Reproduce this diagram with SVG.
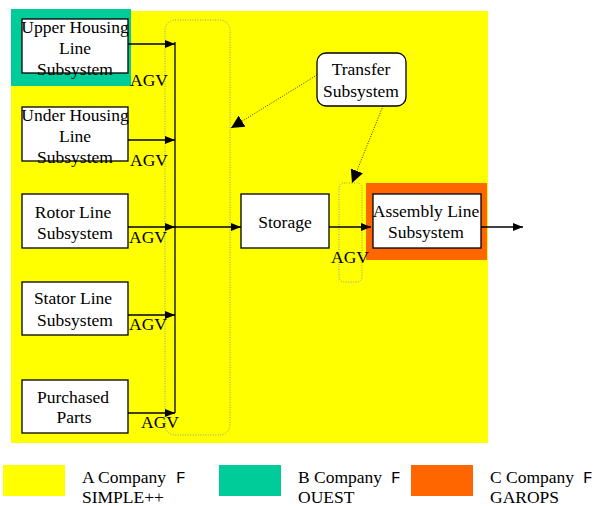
<svg xmlns="http://www.w3.org/2000/svg" width="596" height="506" viewBox="0 0 596 506" font-family="'Liberation Serif', 'Times New Roman', serif">
<style>
text{font-family:'Liberation Serif','Times New Roman',serif;font-size:17.5px;fill:#000}
.c{text-anchor:middle}
text.mono{font-family:'Liberation Mono','Courier New',monospace;font-size:16px}
.box{fill:#fff;stroke:#000;stroke-width:1.3}
.ln{stroke:#000;stroke-width:1.3;fill:none}
.dot{stroke:#8899aa;stroke-width:1;stroke-dasharray:1,1.5;fill:none}
.dar{stroke:#000;stroke-width:0.8;stroke-dasharray:1,1.5;fill:none}
</style>
<defs>
<marker id="ah" viewBox="0 0 10 10" refX="10" refY="5" markerWidth="10" markerHeight="10" markerUnits="userSpaceOnUse" orient="auto">
<path d="M0,1 L10,5 L0,9 Z" fill="#000"/>
</marker>
<marker id="ah2" viewBox="0 0 10 10" refX="10" refY="5" markerWidth="13" markerHeight="13" markerUnits="userSpaceOnUse" orient="auto">
<path d="M0,0 L10,5 L0,10 Z" fill="#000"/>
</marker>
</defs>
<g id="background">
<rect x="11" y="11" width="477" height="432" fill="#ffff00"/>
<rect x="11" y="9" width="120" height="77" fill="#00cc99"/>
<rect x="366" y="183" width="121" height="77" fill="#ff6600"/>
<rect x="165" y="20" width="65" height="415" rx="10" class="dot"/>
<rect x="339" y="183" width="23" height="99" rx="5" class="dot"/>
</g>
<g id="connectors">
<line x1="175" y1="42" x2="175" y2="413" class="ln"/>
<line x1="128" y1="44" x2="175" y2="44" class="ln" marker-end="url(#ah)"/>
<line x1="128" y1="140" x2="175" y2="140" class="ln" marker-end="url(#ah)"/>
<line x1="128" y1="227" x2="175" y2="227" class="ln" marker-end="url(#ah)"/>
<line x1="128" y1="315" x2="175" y2="315" class="ln" marker-end="url(#ah)"/>
<line x1="128" y1="413" x2="175" y2="413" class="ln" marker-end="url(#ah)"/>
<line x1="175" y1="227" x2="241" y2="227" class="ln" marker-end="url(#ah)"/>
<line x1="329" y1="227" x2="371" y2="227" class="ln" marker-end="url(#ah)"/>
<line x1="481" y1="227" x2="523" y2="227" class="ln" marker-end="url(#ah)"/>
<line x1="317" y1="75" x2="231" y2="128" class="dar" marker-end="url(#ah2)"/>
<line x1="383" y1="106" x2="352" y2="183" class="dar" marker-end="url(#ah2)"/>
<text x="130" y="86">AGV</text>
<text x="130" y="166">AGV</text>
<text x="129" y="243">AGV</text>
<text x="129" y="330">AGV</text>
<text x="141" y="428">AGV</text>
<text x="331" y="263">AGV</text>
</g>
<g id="upper-housing">
<rect x="22" y="19" width="106" height="54" class="box"/>
<text x="75" y="33" class="c">Upper Housing</text>
<text x="75" y="54" class="c">Line</text>
<text x="75" y="75" class="c">Subsystem</text>
</g>
<g id="under-housing">
<rect x="22" y="107" width="106" height="54" class="box"/>
<text x="75" y="121" class="c">Under Housing</text>
<text x="75" y="142" class="c">Line</text>
<text x="75" y="163" class="c">Subsystem</text>
</g>
<g id="rotor">
<rect x="22" y="194" width="106" height="54" class="box"/>
<text x="73" y="218" class="c">Rotor Line</text>
<text x="75" y="239" class="c">Subsystem</text>
</g>
<g id="stator">
<rect x="22" y="282" width="106" height="53" class="box"/>
<text x="73" y="304" class="c">Stator Line</text>
<text x="75" y="326" class="c">Subsystem</text>
</g>
<g id="purchased">
<rect x="22" y="380" width="106" height="53" class="box"/>
<text x="73" y="403" class="c">Purchased</text>
<text x="74" y="423" class="c">Parts</text>
</g>
<g id="storage">
<rect x="241" y="194" width="88" height="54" class="box"/>
<text x="285" y="228" class="c">Storage</text>
</g>
<g id="assembly">
<rect x="373" y="194" width="108" height="54" class="box"/>
<text x="426" y="217" class="c">Assembly Line</text>
<text x="426" y="238" class="c">Subsystem</text>
</g>
<g id="transfer">
<rect x="317" y="53" width="89" height="53" rx="9" class="box"/>
<text x="361" y="75" class="c">Transfer</text>
<text x="361" y="97" class="c">Subsystem</text>
</g>
<g id="legend">
<rect x="3" y="465" width="62" height="31" fill="#ffff00"/>
<text x="82" y="483">A Company</text><text x="176" y="483" class="mono">F</text>
<text x="82" y="503">SIMPLE++</text>
<rect x="219" y="465" width="62" height="31" fill="#00cc99"/>
<text x="298" y="483">B Company</text><text x="391" y="483" class="mono">F</text>
<text x="298" y="503">OUEST</text>
<rect x="411" y="465" width="62" height="31" fill="#ff6600"/>
<text x="490" y="483">C Company</text><text x="583" y="483" class="mono">F</text>
<text x="490" y="503">GAROPS</text>
</g>
</svg>
